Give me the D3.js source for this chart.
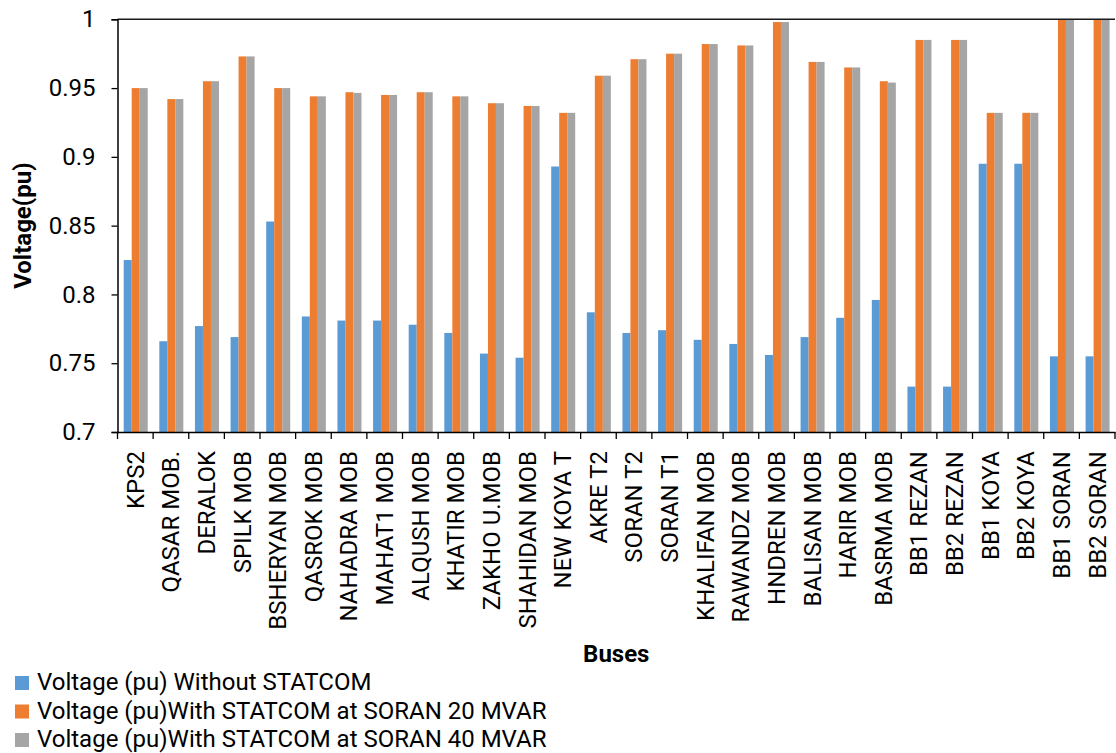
<!DOCTYPE html>
<html>
<head>
<meta charset="utf-8">
<script src="https://cdn.jsdelivr.net/npm/d3@7"></script>
<style>
  html, body { margin: 0; padding: 0; background: #fff; }
  svg { display: block; }
  text { font-family: Roboto, "Liberation Sans", sans-serif; fill: #000; }
</style>
</head>
<body>
<svg id="chart" width="1116" height="753"></svg>
<script>
const categories = ["KPS2","QASAR MOB.","DERALOK","SPILK MOB","BSHERYAN MOB","QASROK MOB","NAHADRA MOB","MAHAT1 MOB","ALQUSH MOB","KHATIR MOB","ZAKHO U.MOB","SHAHIDAN MOB","NEW KOYA T","AKRE T2","SORAN T2","SORAN T1","KHALIFAN MOB","RAWANDZ MOB","HNDREN MOB","BALISAN MOB","HARIR MOB","BASRMA MOB","BB1 REZAN","BB2 REZAN","BB1 KOYA","BB2 KOYA","BB1 SORAN","BB2 SORAN"];
const withoutStatcom = [0.825,0.766,0.777,0.769,0.853,0.784,0.781,0.781,0.778,0.772,0.757,0.754,0.893,0.787,0.772,0.774,0.767,0.764,0.756,0.769,0.783,0.796,0.733,0.733,0.895,0.895,0.755,0.755];
const statcom20 = [0.950,0.942,0.955,0.973,0.950,0.944,0.947,0.945,0.947,0.944,0.939,0.937,0.932,0.959,0.971,0.975,0.982,0.981,0.998,0.969,0.965,0.955,0.985,0.985,0.932,0.932,1.0,1.0];
const statcom40 = [0.950,0.942,0.955,0.973,0.950,0.944,0.9465,0.945,0.947,0.944,0.939,0.937,0.932,0.959,0.971,0.975,0.982,0.981,0.998,0.969,0.965,0.954,0.985,0.985,0.932,0.932,1.0,1.0];
const seriesNames = ["Voltage (pu) Without STATCOM","Voltage (pu)With STATCOM at SORAN 20 MVAR","Voltage (pu)With STATCOM at SORAN 40 MVAR"];
const seriesColors = ["#5B9BD5","#ED7D31","#A5A5A5"];
const yTicks = [0.7,0.75,0.8,0.85,0.9,0.95,1];
const yTickLabels = ["0.7","0.75","0.8","0.85","0.9","0.95","1"];
const xTitle = "Buses";
const yTitle = "Voltage(pu)";

const seriesValues = [withoutStatcom, statcom20, statcom40];
const table = categories.map((c, i) => ({cat: c, vals: seriesValues.map(s => s[i])}));

const svg = d3.select("#chart");
const pLeft = 117.5, pRight = 1115, pTop = 19.3, pBottom = 432;
const FS = 24;

const x0 = d3.scaleBand().domain(categories).range([pLeft, pRight]).padding(0);
const x1 = d3.scaleBand().domain(d3.range(3)).range([x0.bandwidth()*0.174, x0.bandwidth()*0.848]).padding(0);
const y = d3.scaleLinear().domain([0.7, 1]).range([pBottom, pTop]);

// bars
const groups = svg.append("g").selectAll("g").data(table).join("g")
  .attr("transform", d => `translate(${x0(d.cat)},0)`);
groups.selectAll("rect").data(d => d.vals.map((v, k) => ({v, k}))).join("rect")
  .attr("x", d => x1(d.k))
  .attr("width", x1.bandwidth())
  .attr("y", d => y(Math.min(d.v, 1)))
  .attr("height", d => y(0.7) - y(Math.min(d.v, 1)))
  .attr("fill", d => seriesColors[d.k]);

// top line at 1
svg.append("line").attr("x1", pLeft).attr("x2", pRight).attr("y1", y(1)).attr("y2", y(1))
  .attr("stroke", "#1a1a1a").attr("stroke-width", 1.5);

// y axis
const yAxis = d3.axisLeft(y).tickValues(yTicks).tickFormat((d, i) => yTickLabels[i]).tickSize(6).tickPadding(16);
const ya = svg.append("g").attr("transform", `translate(${pLeft},0)`).call(yAxis);
ya.select(".domain").attr("stroke", "#000").attr("stroke-width", 1.5);
ya.selectAll(".tick line").attr("stroke", "#000").attr("stroke-width", 1.3);
ya.selectAll("text").attr("font-size", FS).attr("font-family", "Roboto, sans-serif").attr("fill", "#000");

// x axis
const xAxis = d3.axisBottom(x0).tickSize(0).tickPadding(0);
const xa = svg.append("g").attr("transform", `translate(0,${pBottom})`).call(xAxis);
xa.select(".domain").attr("stroke", "#000").attr("stroke-width", 1.5);
xa.selectAll(".tick text")
  .attr("font-size", FS).attr("font-family", "Roboto, sans-serif").attr("fill", "#000")
  .attr("text-anchor", "end")
  .attr("transform", "rotate(-90)")
  .attr("x", -19).attr("y", 0).attr("dy", "0.35em");
// boundary ticks
const bounds = categories.map(c => x0(c)).concat([pRight]);
svg.append("g").selectAll("line").data(bounds).join("line")
  .attr("x1", d => d).attr("x2", d => d).attr("y1", pBottom).attr("y2", pBottom + 7)
  .attr("stroke", "#000").attr("stroke-width", 1.3);

// titles
svg.append("text").attr("x", (pLeft + pRight) / 2).attr("y", 662).attr("text-anchor", "middle")
  .attr("font-size", FS).attr("font-weight", "bold").text(xTitle);
svg.append("text").attr("transform", `translate(31,${(pTop + pBottom) / 2}) rotate(-90)`)
  .attr("text-anchor", "middle").attr("font-size", FS).attr("font-weight", "bold").text(yTitle);

// legend
const leg = svg.append("g").selectAll("g").data(seriesNames).join("g")
  .attr("transform", (d, i) => `translate(15,${676 + i * 28.5})`);
leg.append("rect").attr("width", 14).attr("height", 14).attr("fill", (d, i) => seriesColors[i]);
leg.append("text").attr("x", 22).attr("y", 14).attr("font-size", FS).text(d => d);
</script>
</body>
</html>
